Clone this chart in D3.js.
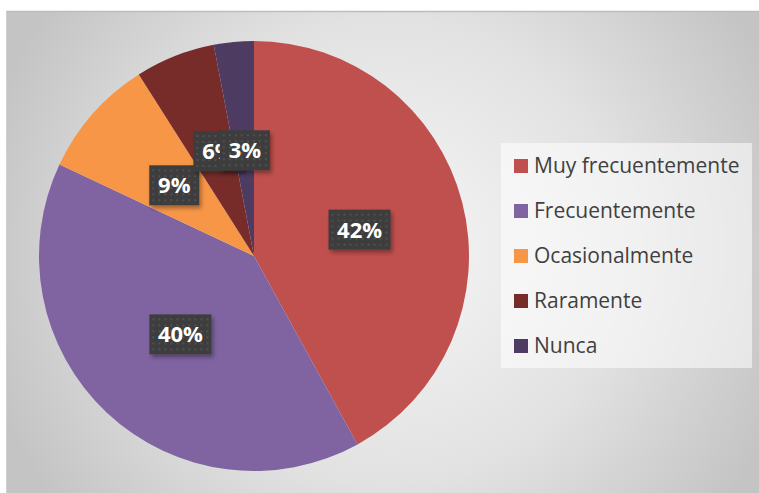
<!DOCTYPE html>
<head>
    <meta charset="utf-8">
    <title>Pie</title>
    <style>
        body { margin: 0; background: #fff; }
        text { font-family: "Open Sans", "Noto Sans", sans-serif; }
        .legend text { fill: #404040; font-size: 21px; }
        .lbl text { fill: #fff; font-size: 22px; font-weight: bold; }
    </style>
    <script src="https://cdn.jsdelivr.net/npm/d3@7"></script>
</head>
<body>
<svg width="759" height="493"></svg>
<script>

var categories = ["Muy frecuentemente", "Frecuentemente", "Ocasionalmente", "Raramente", "Nunca"];
var values = [42, 40, 9, 6, 3];
var labels = ["42%", "40%", "9%", "6%", "3%"];
var colors = ["#C0504D", "#8064A2", "#F79646", "#772C2A", "#4D3B62"];

var svg = d3.select("svg"),
    width = +svg.attr("width"),
    height = +svg.attr("height");

var defs = svg.append("defs");

var grad = defs.append("radialGradient")
    .attr("id", "bg")
    .attr("gradientUnits", "userSpaceOnUse")
    .attr("cx", 390).attr("cy", 250).attr("r", 420);
grad.append("stop").attr("offset", "0%").attr("stop-color", "#f6f6f6");
grad.append("stop").attr("offset", "55%").attr("stop-color", "#e2e2e2");
grad.append("stop").attr("offset", "100%").attr("stop-color", "#c4c4c4");

var pat = defs.append("pattern")
    .attr("id", "dots")
    .attr("patternUnits", "userSpaceOnUse")
    .attr("width", 6).attr("height", 6);
pat.append("rect").attr("width", 6).attr("height", 6).attr("fill", "#3d3d3d");
pat.append("rect").attr("x", 2).attr("y", 2).attr("width", 2).attr("height", 2).attr("fill", "#505050");

var shadow = defs.append("filter").attr("id", "sh").attr("x", "-20%").attr("y", "-20%")
    .attr("width", "150%").attr("height", "150%");
shadow.append("feDropShadow").attr("dx", 2).attr("dy", 3).attr("stdDeviation", 2)
    .attr("flood-color", "#000").attr("flood-opacity", 0.35);

// chart area
svg.append("rect")
    .attr("x", 6).attr("y", 11)
    .attr("width", width - 6).attr("height", height - 11)
    .attr("fill", "url(#bg)");
svg.append("line")
    .attr("x1", 6).attr("x2", width).attr("y1", 11.5).attr("y2", 11.5)
    .attr("stroke", "#bdbdbd").attr("stroke-width", 1.5);
svg.append("line")
    .attr("x1", 6.5).attr("x2", 6.5).attr("y1", 11).attr("y2", height)
    .attr("stroke", "#cfcfcf").attr("stroke-width", 1);

var cx = 254, cy = 256, radius = 215;

var pie = d3.pie().sort(null).value(function(d) { return d; });
var arc = d3.arc().innerRadius(0).outerRadius(radius);
var arcs = pie(values);

var g = svg.append("g").attr("transform", "translate(" + cx + "," + cy + ")");

g.selectAll("path")
    .data(arcs)
    .enter().append("path")
    .attr("d", arc)
    .attr("fill", function(d, i) { return colors[i]; });

// label positions: centroid at a radius fraction, nudged per slice
var labelArc = [0.55, 0.5, 0.42, 0.5, 0.55];
var labelOffset = [[-9, 3], [0, 0], [-12, -11], [4, -5], [2, 12]];

var lbl = svg.append("g").attr("class", "lbl");
arcs.forEach(function(d, i) {
    var r = radius * labelArc[i];
    var a = (d.startAngle + d.endAngle) / 2;
    var x = cx + Math.sin(a) * r + labelOffset[i][0];
    var y = cy - Math.cos(a) * r + labelOffset[i][1];
    var w = labels[i].length > 2 ? 62 : 50;
    var h = 40;
    var gg = lbl.append("g").attr("transform", "translate(" + x + "," + y + ")");
    gg.append("rect")
        .attr("x", -w / 2).attr("y", -h / 2)
        .attr("width", w).attr("height", h)
        .attr("fill", "url(#dots)")
        .attr("filter", "url(#sh)");
    gg.append("text")
        .attr("text-anchor", "middle")
        .attr("dy", "0.36em")
        .text(labels[i]);
});

// legend
var legend = svg.append("g").attr("class", "legend");
legend.append("rect")
    .attr("x", 501).attr("y", 143)
    .attr("width", 251).attr("height", 225)
    .attr("fill", "#ffffff").attr("fill-opacity", 0.55);

var ly = d3.scalePoint().domain(categories).range([166, 346]);

var items = legend.selectAll("g.item")
    .data(categories)
    .enter().append("g")
    .attr("class", "item")
    .attr("transform", function(d) { return "translate(514," + ly(d) + ")"; });
items.append("rect")
    .attr("x", 0).attr("y", -7)
    .attr("width", 14).attr("height", 14)
    .attr("fill", function(d, i) { return colors[i]; });
items.append("text")
    .attr("x", 20)
    .attr("dy", "0.35em")
    .text(function(d) { return d; });

</script>
</body>
